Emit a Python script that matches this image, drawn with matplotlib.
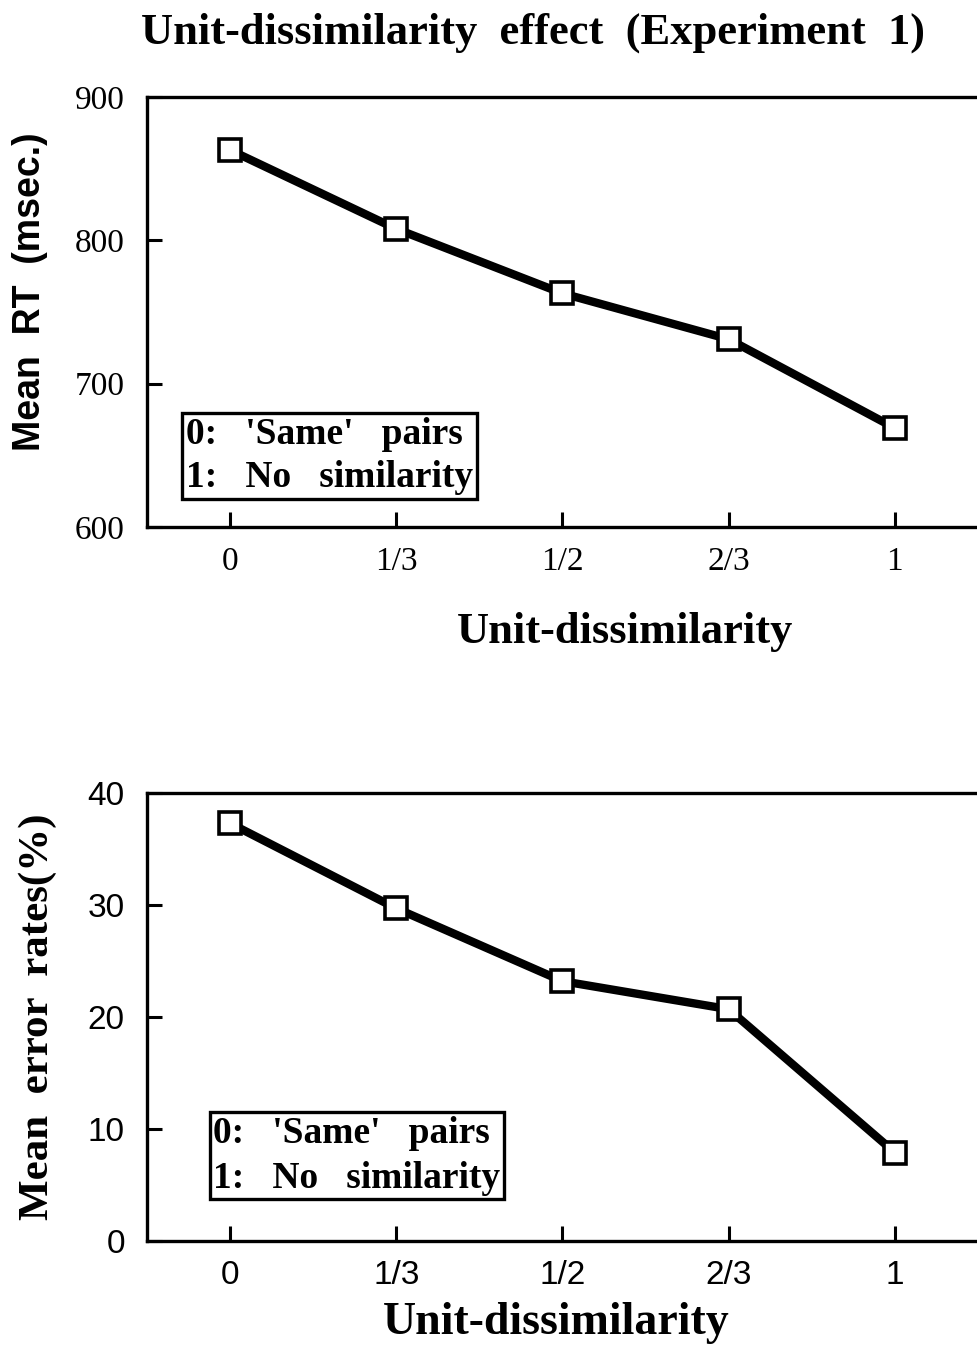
import numpy as np
import matplotlib
matplotlib.use("Agg")
import matplotlib.pyplot as plt

# data
levels = ["0", "1/3", "1/2", "2/3", "1"]
rt_ms = [863, 808, 763, 731, 669]
err_pct = [37.3, 29.7, 23.2, 20.7, 7.9]

serif = "Liberation Serif"
sans = "Liberation Sans"
key_txt = "0:   'Same'   pairs\n1:   No   similarity"

fig = plt.figure(figsize=(9.78, 13.46), dpi=100)

ax1 = fig.add_axes([0.1503, 0.6085, 0.8497, 0.3194])
ax2 = fig.add_axes([0.1503, 0.0780, 0.8497, 0.3328])

x = np.arange(len(levels))

def style(ax):
    for s in ["left", "bottom", "top"]:
        ax.spines[s].set_linewidth(2.4)
    ax.spines["right"].set_visible(False)
    ax.tick_params(direction="in", length=11, width=2.2, top=False, right=False)
    ax.set_xlim(-0.5, 4.5)
    ax.set_xticks(x)

# top panel: RT
ax1.plot(x, rt_ms, color="black", lw=6, marker="s", ms=16.5, mfc="white",
         mec="black", mew=2.6, zorder=3)
style(ax1)
ax1.set_ylim(600, 900)
ax1.set_yticks([600, 700, 800, 900])
ax1.set_xticklabels(levels, fontfamily=serif, fontsize=24)
ax1.set_yticklabels(["600", "700", "800", "900"], fontfamily=serif, fontsize=24)
ax1.tick_params(axis="x", pad=14)
ax1.tick_params(axis="y", pad=16)
ax1.text(0.047, 0.165, key_txt, transform=ax1.transAxes,
         fontfamily=serif, fontweight="bold", fontsize=27, va="center", ha="left",
         linespacing=1.3,
         bbox=dict(boxstyle="square,pad=0.1", fc="white", ec="black", lw=2.4))

# bottom panel: errors
ax2.plot(x, err_pct, color="black", lw=6, marker="s", ms=16.5, mfc="white",
         mec="black", mew=2.6, zorder=3)
style(ax2)
ax2.set_ylim(0, 40)
ax2.set_yticks([0, 10, 20, 30, 40])
ax2.set_xticklabels(levels, fontfamily=sans, fontsize=24)
ax2.set_yticklabels(["0", "10", "20", "30", "40"], fontfamily=sans, fontsize=24)
ax2.tick_params(axis="x", pad=14)
ax2.tick_params(axis="y", pad=16)
ax2.text(0.080, 0.19, key_txt, transform=ax2.transAxes,
         fontfamily=serif, fontweight="bold", fontsize=27, va="center", ha="left",
         linespacing=1.35,
         bbox=dict(boxstyle="square,pad=0.1", fc="white", ec="black", lw=2.4))

# titles and axis labels
fig.text(0.545, 0.9755, "Unit-dissimilarity  effect  (Experiment  1)", fontfamily=serif,
         fontweight="bold", fontsize=32, ha="center", va="center")
fig.text(0.639, 0.5305, "Unit-dissimilarity", fontfamily=serif, fontweight="bold",
         fontsize=32, ha="center", va="center")
fig.text(0.0307, 0.783, "Mean  RT  (msec.)", fontfamily=sans, fontweight="bold",
         fontsize=27, rotation=90, ha="center", va="center")
fig.text(0.569, 0.0171, "Unit-dissimilarity", fontfamily=serif, fontweight="bold",
         fontsize=33, ha="center", va="center")
fig.text(0.039, 0.2444, "Mean  error  rates(%)", fontfamily=serif, fontweight="bold",
         fontsize=31, rotation=90, ha="center", va="center")

fig.savefig("out.png", dpi=100)
